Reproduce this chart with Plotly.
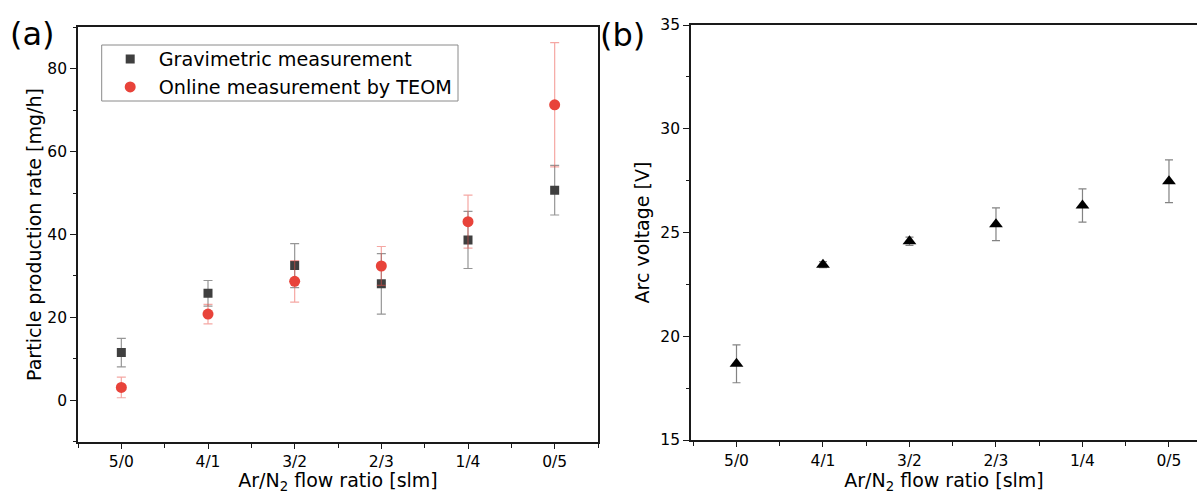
import numpy as np
import plotly.graph_objects as go

# Ar/N2 flow ratios (slm) on the x axis of both panels
ratios = ["5/0", "4/1", "3/2", "2/3", "1/4", "0/5"]

# (a) particle production rate [mg/h]
gravimetric = [11.5, 25.8, 32.5, 28.1, 38.7, 50.7]
gravimetric_err = [3.45, 3.1, 5.3, 7.3, 6.9, 6.0]
teom = [3.1, 20.8, 28.7, 32.4, 43.1, 71.3]
teom_err = [2.5, 2.35, 5.0, 4.7, 6.4, 15.0]

# (b) arc voltage [V]
voltage = [18.67, 23.45, 24.58, 25.4, 26.3, 27.47]
voltage_err = [0.91, 0.15, 0.2, 0.79, 0.8, 1.03]

W, H = 1197, 494
FONT = "DejaVu Sans"
AXIS_COLOR = "#1a1a1a"

xpos = np.arange(1, len(ratios) + 1)

fig = go.Figure()

fig.add_trace(go.Scatter(
    x=xpos, y=gravimetric, mode="markers", name="Gravimetric measurement",
    marker=dict(symbol="square", size=9, color="#3f3f3f"),
    error_y=dict(type="data", array=gravimetric_err, color="rgba(80,80,80,0.6)",
                 thickness=1.2, width=4.5),
    xaxis="x", yaxis="y",
))
fig.add_trace(go.Scatter(
    x=xpos, y=teom, mode="markers", name="Online measurement by TEOM",
    marker=dict(symbol="circle", size=11, color="#e8433a"),
    error_y=dict(type="data", array=teom_err, color="rgba(236,80,72,0.5)",
                 thickness=1.2, width=4.5),
    xaxis="x", yaxis="y",
))
fig.add_trace(go.Scatter(
    x=xpos, y=voltage, mode="markers", name="Arc voltage", showlegend=False,
    marker=dict(symbol="triangle-up", size=12, color="#000000"),
    error_y=dict(type="data", array=voltage_err, color="rgba(90,90,90,0.75)",
                 thickness=1.2, width=4),
    xaxis="x2", yaxis="y2",
))

tick_font = dict(family=FONT, size=15.5, color="#000")
title_font = dict(family=FONT, size=19, color="#000")

common_x = dict(
    tickmode="array", tickvals=xpos, ticktext=ratios,
    ticks="outside", ticklen=5, tickwidth=1.3, tickcolor=AXIS_COLOR,
    minor=dict(tickmode="linear", tick0=0.5, dtick=1, ticks="outside",
               ticklen=4, tickwidth=1.2, tickcolor=AXIS_COLOR),
    showline=True, linecolor=AXIS_COLOR, linewidth=1.8,
    showgrid=False, zeroline=False, tickfont=tick_font, automargin=False,
    title=dict(text="Ar/N<sub>2</sub> flow ratio [slm]", font=title_font, standoff=8),
)

left_y_dom = [(H - 441.7) / H, (H - 27.3) / H]
right_y_dom = [(H - 440) / H, (H - 25) / H]

# frame drawn around the legend of panel (a)
legend_frame = dict(
    type="rect", xref="paper", yref="paper",
    x0=101.7 / W, x1=458 / W, y0=1 - 101 / H, y1=1 - 45 / H,
    line=dict(color="#8a8a8a", width=1), fillcolor="rgba(0,0,0,0)", layer="above",
)

fig.update_layout(
    width=W, height=H,
    margin=dict(l=0, r=0, t=0, b=0, autoexpand=False),
    paper_bgcolor="white", plot_bgcolor="white",
    font=dict(family=FONT, color="#000"),
    xaxis=dict(common_x, domain=[78 / W, 598 / W], range=[0.5, 6.5],
               mirror=True, anchor="y"),
    yaxis=dict(
        domain=left_y_dom, range=[-10, 90], tick0=0, dtick=20,
        ticks="outside", ticklen=6, tickwidth=1.3, tickcolor=AXIS_COLOR,
        minor=dict(dtick=10, ticks="outside", ticklen=3, tickwidth=1.2,
                   tickcolor=AXIS_COLOR),
        showline=True, linecolor=AXIS_COLOR, linewidth=1.8, mirror=True,
        showgrid=False, zeroline=False, tickfont=tick_font, anchor="x",
        automargin=False,
        title=dict(text="Particle production rate [mg/h]", font=title_font, standoff=1),
    ),
    # inner half of the crossing ticks on the left axis of panel (a)
    yaxis3=dict(
        overlaying="y", anchor="x", side="left", range=[-10, 90],
        tick0=0, dtick=20, ticks="inside", ticklen=7, tickwidth=1.3,
        tickcolor=AXIS_COLOR,
        minor=dict(dtick=10, ticks="inside", ticklen=3, tickwidth=1.2,
                   tickcolor=AXIS_COLOR),
        showticklabels=False, showline=False, showgrid=False, zeroline=False,
        automargin=False,
    ),
    xaxis2=dict(common_x, domain=[691 / W, 1.0], range=[0.474, 6.324],
                mirror=True, anchor="y2"),
    yaxis2=dict(
        domain=right_y_dom, range=[15, 35], tick0=15, dtick=5,
        ticks="outside", ticklen=6, tickwidth=1.3, tickcolor=AXIS_COLOR,
        minor=dict(dtick=2.5, ticks="outside", ticklen=3, tickwidth=1.2,
                   tickcolor=AXIS_COLOR),
        showline=True, linecolor=AXIS_COLOR, linewidth=1.8, mirror=False,
        showgrid=False, zeroline=False, tickfont=tick_font, anchor="x2",
        automargin=False,
        title=dict(text="Arc voltage [V]", font=title_font, standoff=6),
    ),
    legend=dict(
        x=101.7 / W, y=1 - 40 / H, xanchor="left", yanchor="top",
        borderwidth=0, bgcolor="rgba(255,255,255,0)",
        font=dict(family=FONT, size=19.2, color="#000"),
        itemwidth=47,
    ),
    shapes=[legend_frame],
    annotations=[
        dict(text="(a)", x=32 / W, y=1 - 34 / H, xref="paper", yref="paper",
             showarrow=False, xanchor="center", yanchor="middle",
             font=dict(family=FONT, size=32, color="#000")),
        dict(text="(b)", x=622.5 / W, y=1 - 35 / H, xref="paper", yref="paper",
             showarrow=False, xanchor="center", yanchor="middle",
             font=dict(family=FONT, size=32, color="#000")),
    ],
)

fig.write_html("out.html")
